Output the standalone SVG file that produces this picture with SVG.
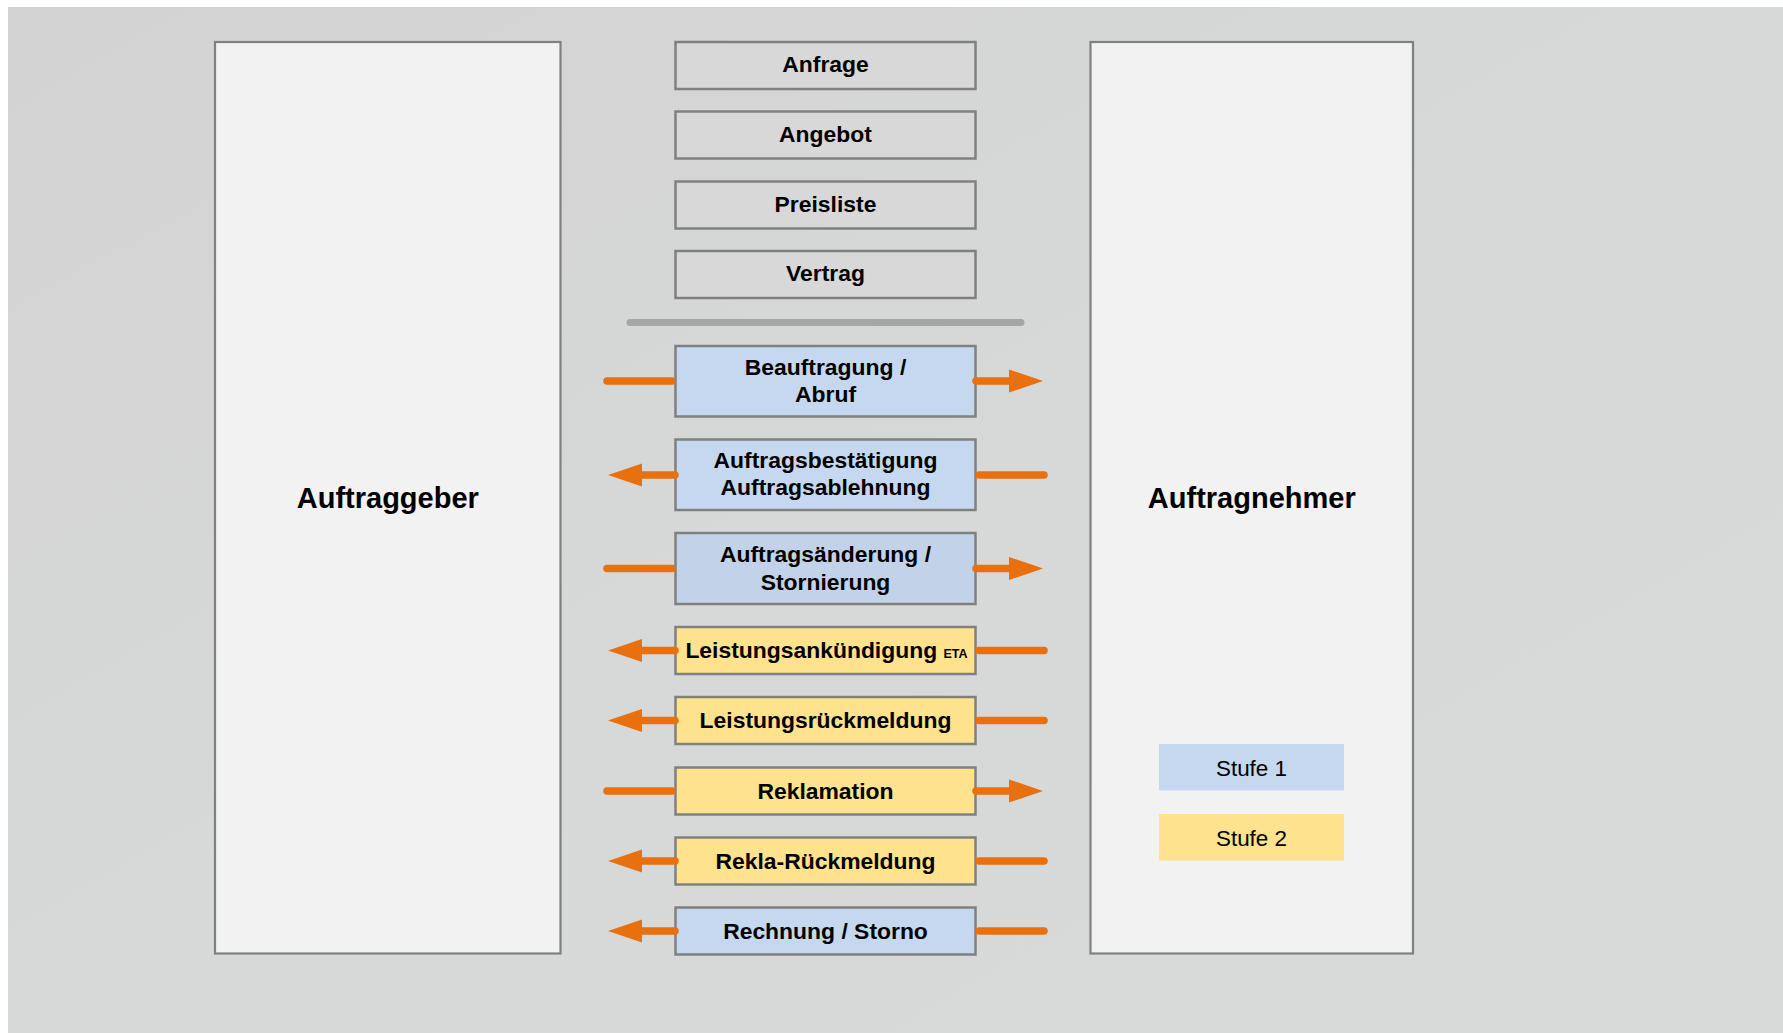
<svg xmlns="http://www.w3.org/2000/svg" width="1783" height="1033" viewBox="0 0 1783 1033">
  <defs>
    <linearGradient id="bg" x1="0" y1="0" x2="1" y2="1">
      <stop offset="0" stop-color="#d3d3d3"/>
      <stop offset="0.5" stop-color="#d7d8d8"/>
      <stop offset="1" stop-color="#d8d9d9"/>
    </linearGradient>
    <marker id="head" markerUnits="userSpaceOnUse" markerWidth="36" markerHeight="26" viewBox="0 -13 36 26" refX="1" refY="0" orient="auto">
      <path d="M0,-11.5 L34,0 L0,11.5 Z" fill="#e8700f"/>
    </marker>
    <style>
      .party { fill: #f2f2f2; stroke: #808080; stroke-width: 2.2; }
      .plain { fill: #d8d8d8; stroke: #808080; stroke-width: 2.5; }
      .s1 { fill: #c6d8ef; stroke: #808080; stroke-width: 2.5; }
      .s1b { fill: #c2d3e9; stroke: #808080; stroke-width: 2.5; }
      .s2 { fill: #fee28e; stroke: #808080; stroke-width: 2.5; }
      .lbl { font-family: "Liberation Sans", Arial, sans-serif; font-weight: bold; font-size: 22.9px; fill: #000; text-anchor: middle; }
      .big { font-family: "Liberation Sans", Arial, sans-serif; font-weight: bold; font-size: 29px; fill: #000; text-anchor: middle; }
      .leg { font-family: "Liberation Sans", Arial, sans-serif; font-size: 22.4px; fill: #000; text-anchor: middle; }
      .eta { font-size: 12.5px; }
      .conn { stroke: #e8700f; stroke-width: 7.5; stroke-linecap: round; fill: none; }
      .arr { stroke: #e8700f; stroke-width: 7.5; stroke-linecap: round; fill: none; marker-end: url(#head); }
    </style>
  </defs>

  <rect x="0" y="0" width="1783" height="1033" fill="#ffffff"/>
  <rect x="8" y="7" width="1775" height="1026" fill="url(#bg)"/>

  <g id="auftraggeber">
    <rect class="party" x="215" y="42" width="345.5" height="911.5"/>
    <text class="big" x="387.8" y="507.5">Auftraggeber</text>
  </g>
  <g id="auftragnehmer">
    <rect class="party" x="1090.5" y="42" width="322.5" height="911.5"/>
    <text class="big" x="1251.8" y="507.5">Auftragnehmer</text>
  </g>

  <g id="anfrage">
    <rect class="plain" x="675.5" y="42" width="300" height="47"/>
    <text class="lbl" x="825.5" y="72">Anfrage</text>
  </g>
  <g id="angebot">
    <rect class="plain" x="675.5" y="111.5" width="300" height="47"/>
    <text class="lbl" x="825.5" y="141.5">Angebot</text>
  </g>
  <g id="preisliste">
    <rect class="plain" x="675.5" y="181.5" width="300" height="47"/>
    <text class="lbl" x="825.5" y="211.5">Preisliste</text>
  </g>
  <g id="vertrag">
    <rect class="plain" x="675.5" y="251" width="300" height="47"/>
    <text class="lbl" x="825.5" y="281">Vertrag</text>
  </g>

  <g id="separator">
    <line x1="630" y1="322.5" x2="1021" y2="322.5" stroke="#a6a6a6" stroke-width="7" stroke-linecap="round"/>
  </g>

  <g id="beauftragung">
    <rect class="s1" x="675.5" y="346" width="300" height="70.5"/>
    <text class="lbl" x="825.5" y="375">Beauftragung /</text>
    <text class="lbl" x="825.5" y="402">Abruf</text>
  </g>
  <g id="auftragsbestaetigung">
    <rect class="s1" x="675.5" y="439.5" width="300" height="70.5"/>
    <text class="lbl" x="825.5" y="468">Auftragsbestätigung</text>
    <text class="lbl" x="825.5" y="495">Auftragsablehnung</text>
  </g>
  <g id="auftragsaenderung">
    <rect class="s1b" x="675.5" y="533" width="300" height="71"/>
    <text class="lbl" x="825.5" y="562">Auftragsänderung /</text>
    <text class="lbl" x="825.5" y="590">Stornierung</text>
  </g>
  <g id="leistungsankuendigung">
    <rect class="s2" x="675.5" y="627" width="300" height="47"/>
    <text class="lbl" x="826.5" y="658">Leistungsankündigung <tspan class="eta">ETA</tspan></text>
  </g>
  <g id="leistungsrueckmeldung">
    <rect class="s2" x="675.5" y="697" width="300" height="47"/>
    <text class="lbl" x="825.5" y="728">Leistungsrückmeldung</text>
  </g>
  <g id="reklamation">
    <rect class="s2" x="675.5" y="767.5" width="300" height="47"/>
    <text class="lbl" x="825.5" y="798.5">Reklamation</text>
  </g>
  <g id="rekla-rueckmeldung">
    <rect class="s2" x="675.5" y="837.5" width="300" height="47"/>
    <text class="lbl" x="825.5" y="868.5">Rekla-Rückmeldung</text>
  </g>
  <g id="rechnung">
    <rect class="s1" x="675.5" y="907.5" width="300" height="47"/>
    <text class="lbl" x="825.5" y="938.5">Rechnung / Storno</text>
  </g>

  <g id="legende">
    <g id="stufe1">
      <rect x="1159" y="744" width="185" height="46.5" fill="#c6d8ef"/>
      <text class="leg" x="1251.5" y="775.5">Stufe 1</text>
    </g>
    <g id="stufe2">
      <rect x="1159" y="814" width="185" height="46.5" fill="#fee28e"/>
      <text class="leg" x="1251.5" y="846">Stufe 2</text>
    </g>
  </g>

  <g id="connectors">
    <line class="conn" x1="607" y1="381" x2="672" y2="381"/>
    <line class="arr" x1="976" y1="381" x2="1010" y2="381"/>
    <line class="conn" x1="979" y1="475" x2="1044" y2="475"/>
    <line class="arr" x1="675" y1="475" x2="641" y2="475"/>
    <line class="conn" x1="607" y1="568.5" x2="672" y2="568.5"/>
    <line class="arr" x1="976" y1="568.5" x2="1010" y2="568.5"/>
    <line class="conn" x1="979" y1="650.5" x2="1044" y2="650.5"/>
    <line class="arr" x1="675" y1="650.5" x2="641" y2="650.5"/>
    <line class="conn" x1="979" y1="720.5" x2="1044" y2="720.5"/>
    <line class="arr" x1="675" y1="720.5" x2="641" y2="720.5"/>
    <line class="conn" x1="607" y1="791" x2="672" y2="791"/>
    <line class="arr" x1="976" y1="791" x2="1010" y2="791"/>
    <line class="conn" x1="979" y1="861" x2="1044" y2="861"/>
    <line class="arr" x1="675" y1="861" x2="641" y2="861"/>
    <line class="conn" x1="979" y1="931" x2="1044" y2="931"/>
    <line class="arr" x1="675" y1="931" x2="641" y2="931"/>
  </g>
</svg>
